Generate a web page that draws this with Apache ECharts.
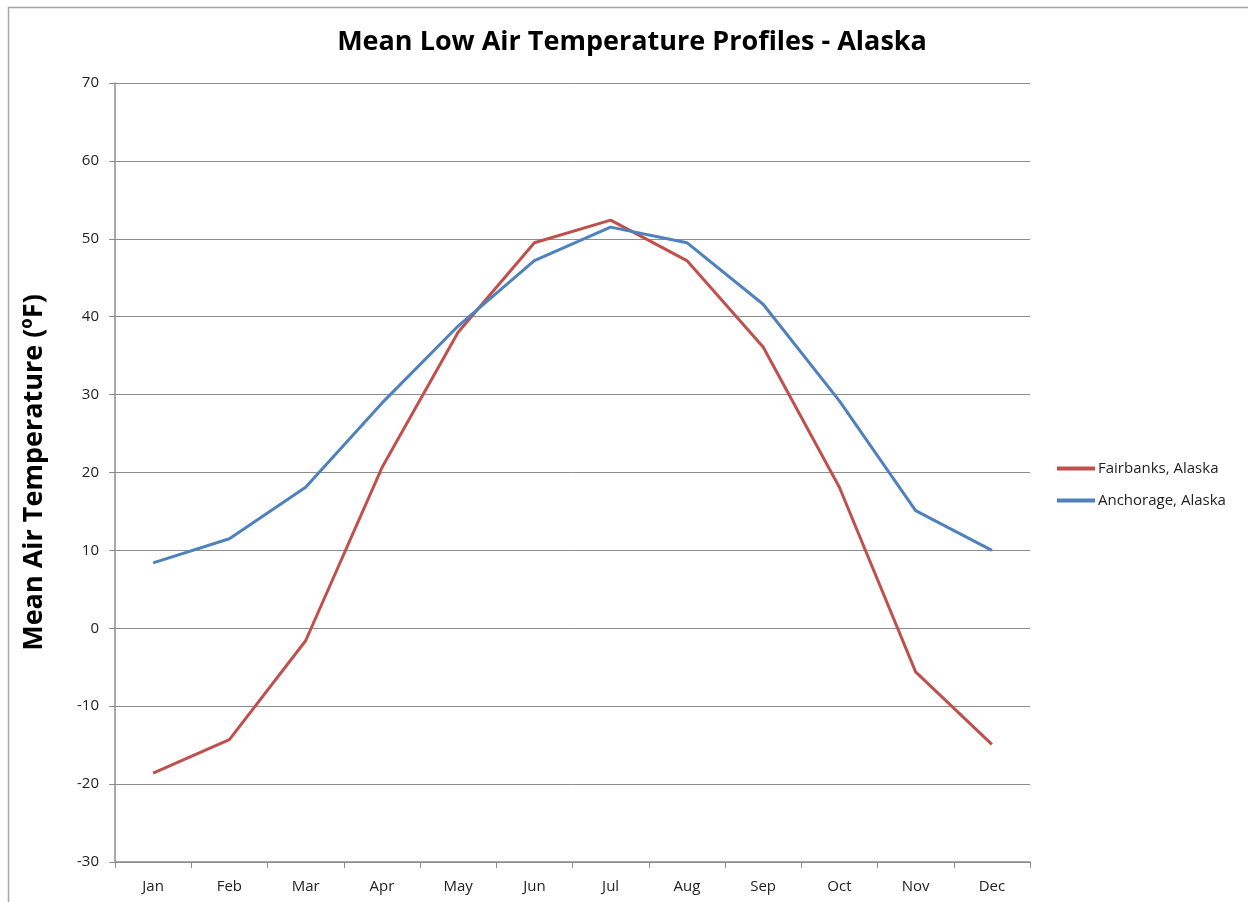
<!DOCTYPE html>
<html>
<head>
<meta charset="utf-8">
<script src="https://cdn.jsdelivr.net/npm/echarts@6/dist/echarts.min.js"></script>
<style>
  html, body { margin: 0; padding: 0; background: #fff; }
  #chart { width: 1248px; height: 902px; }
</style>
</head>
<body>
<div id="chart"></div>
<script>
const months = ["Jan", "Feb", "Mar", "Apr", "May", "Jun", "Jul", "Aug", "Sep", "Oct", "Nov", "Dec"];
const fairbanks = [-18.6, -14.3, -1.6, 20.6, 38.0, 49.5, 52.4, 47.2, 36.1, 18.1, -5.6, -14.9];
const anchorage = [8.4, 11.5, 18.1, 28.9, 38.8, 47.2, 51.5, 49.5, 41.6, 29.2, 15.1, 10.0];

const font = "'Open Sans', 'Noto Sans', sans-serif";

var myChart = echarts.init(document.getElementById("chart"));
myChart.setOption({
  animation: false,
  graphic: [
    {
      type: "rect",
      shape: { x: 8.5, y: 7.5, width: 1260, height: 920 },
      style: { fill: "none", stroke: "#a6a6a6", lineWidth: 1.5 },
      silent: true
    }
  ],
  title: {
    text: "Mean Low Air Temperature Profiles - Alaska",
    left: 627,
    top: 24,
    textAlign: "center",
    textStyle: { fontFamily: font, fontSize: 27, fontWeight: "bold", color: "#000" }
  },
  legend: {
    orient: "vertical",
    left: 1057,
    top: 461,
    padding: 0,
    itemWidth: 38,
    itemHeight: 4,
    itemGap: 17,
    icon: "rect",
    textStyle: { fontFamily: font, fontSize: 15, color: "#222", padding: [0, 0, 0, -2] },
    data: ["Fairbanks, Alaska", "Anchorage, Alaska"]
  },
  grid: {
    left: 115,
    top: 83,
    right: 218,
    bottom: 40
  },
  xAxis: {
    type: "category",
    data: months,
    boundaryGap: true,
    axisLine: { onZero: false, lineStyle: { color: "#8c8c8c", width: 1.5 } },
    axisTick: { show: true, length: 6, inside: false, lineStyle: { color: "#8c8c8c" } },
    axisLabel: { fontFamily: font, fontSize: 15, color: "#222", margin: 17 }
  },
  yAxis: {
    type: "value",
    min: -30,
    max: 70,
    interval: 10,
    name: "Mean Air Temperature (ºF)",
    nameLocation: "middle",
    nameGap: 67,
    nameTextStyle: { fontFamily: font, fontSize: 27, fontWeight: "bold", color: "#000" },
    axisLine: { show: true, lineStyle: { color: "#8c8c8c", width: 1.5 } },
    axisTick: { show: true, length: 6, lineStyle: { color: "#8c8c8c" } },
    axisLabel: { fontFamily: font, fontSize: 15, color: "#222", margin: 16 },
    splitLine: { show: true, lineStyle: { color: "#8c8c8c", width: 1 } }
  },
  series: [
    {
      name: "Fairbanks, Alaska",
      type: "line",
      data: fairbanks,
      symbol: "none",
      color: "#C0504D",
      lineStyle: { color: "#C0504D", width: 3 }
    },
    {
      name: "Anchorage, Alaska",
      type: "line",
      data: anchorage,
      symbol: "none",
      color: "#4F81BD",
      lineStyle: { color: "#4F81BD", width: 3 }
    }
  ]
});
</script>
</body>
</html>
